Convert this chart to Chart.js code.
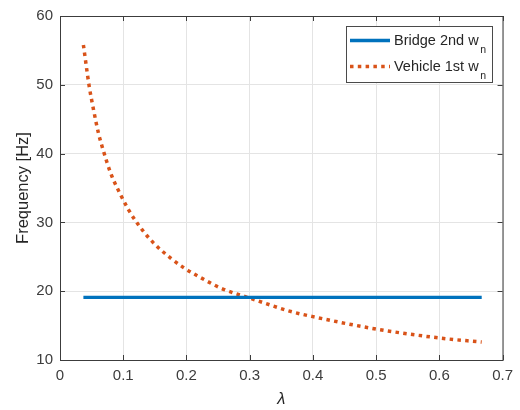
<!DOCTYPE html>
<html>
<head>
<meta charset="utf-8">
<script src="https://cdn.jsdelivr.net/npm/chart.js@4/dist/chart.umd.min.js"></script>
<style>
  html, body { margin: 0; padding: 0; background: #ffffff; }
  #wrap { width: 520px; height: 410px; position: relative; }
</style>
</head>
<body>
<div id="wrap"><canvas id="chart" width="520" height="410"></canvas></div>
<script>
// values
const lambdaVehicle = [0.037, 0.046, 0.053, 0.061, 0.068, 0.080, 0.097, 0.108, 0.122, 0.147,
  0.175, 0.196, 0.218, 0.253, 0.276, 0.300, 0.363, 0.400, 0.500, 0.600, 0.667];
const freqVehicle = [55.8, 49.9, 46.4, 42.9, 40.6, 37.2, 33.8, 31.9, 29.9, 27.1,
  24.8, 23.4, 22.2, 20.5, 19.7, 19.0, 17.1, 16.3, 14.5, 13.2, 12.6];
const lambdaBridge = [0.037, 0.667];
const freqBridge = [19.1, 19.1];
const xTicks = [0, 0.1, 0.2, 0.3, 0.4, 0.5, 0.6, 0.7];
const yTicks = [10, 20, 30, 40, 50, 60];
const legendLabels = ["Bridge 2nd w", "Vehicle 1st w"];
const legendSubs = ["n", "n"];
const yTitle = "Frequency [Hz]";
const xTitle = "\u03bb";

(function () {
  const FONT = "'Liberation Sans', Arial, sans-serif";
  const AXIS_COLOR = "#3c3c3c";
  const BLUE = "#0072BD";
  const ORANGE = "#D95319";

  function toPoints(xs, ys) {
    return xs.map(function (x, i) {
      return { x: x, y: ys[i] };
    });
  }

  const framePlugin = {
    id: "matlabFrame",
    afterDraw: function (chart) {
      const ctx = chart.ctx;
      const area = chart.chartArea;
      const xs = chart.scales.x;
      const ys = chart.scales.y;
      const tick = 5;

      ctx.save();
      ctx.strokeStyle = AXIS_COLOR;
      ctx.lineWidth = 1;
      ctx.strokeRect(area.left + 0.5, area.top + 0.5, area.right - area.left, area.bottom - area.top);

      ctx.beginPath();
      xTicks.forEach(function (v) {
        const px = Math.round(xs.getPixelForValue(v)) + 0.5;
        ctx.moveTo(px, area.bottom);
        ctx.lineTo(px, area.bottom - tick);
        ctx.moveTo(px, area.top);
        ctx.lineTo(px, area.top + tick);
      });
      yTicks.forEach(function (v) {
        const py = Math.round(ys.getPixelForValue(v)) + 0.5;
        ctx.moveTo(area.left, py);
        ctx.lineTo(area.left + tick, py);
        ctx.moveTo(area.right, py);
        ctx.lineTo(area.right - tick, py);
      });
      ctx.stroke();

      // axis titles
      ctx.fillStyle = "#262626";
      ctx.font = "16.5px " + FONT;
      ctx.textAlign = "center";
      ctx.textBaseline = "middle";
      ctx.save();
      ctx.translate(23, (area.top + area.bottom) / 2 + 0);
      ctx.rotate(-Math.PI / 2);
      ctx.fillText(yTitle, 0, 0);
      ctx.restore();
      ctx.font = "italic 16.5px " + FONT;
      ctx.fillText(xTitle, (area.left + area.right) / 2, 399);

      // legend
      const box = { x: 346, y: 26, w: 146, h: 56 };
      ctx.fillStyle = "#ffffff";
      ctx.fillRect(box.x, box.y, box.w, box.h);
      ctx.strokeStyle = "#4a4a4a";
      ctx.strokeRect(box.x + 0.5, box.y + 0.5, box.w, box.h);

      const rows = [
        { y: 40.5, color: BLUE, dash: [], width: 3.3 },
        { y: 66.5, color: ORANGE, dash: [3.5, 4.3], width: 3.5 },
      ];
      rows.forEach(function (row, i) {
        ctx.beginPath();
        ctx.setLineDash(row.dash);
        ctx.lineCap = "butt";
        ctx.strokeStyle = row.color;
        ctx.lineWidth = row.width;
        ctx.moveTo(350, row.y);
        ctx.lineTo(390, row.y);
        ctx.stroke();
        ctx.setLineDash([]);

        ctx.fillStyle = "#262626";
        ctx.textAlign = "left";
        ctx.textBaseline = "alphabetic";
        ctx.font = "14.5px " + FONT;
        ctx.fillText(legendLabels[i], 394, row.y + 4.5);
        const w = ctx.measureText(legendLabels[i]).width;
        ctx.font = "10.5px " + FONT;
        ctx.fillText(legendSubs[i], 394 + w + 1.5, row.y + 12);
      });
      ctx.restore();
    },
  };

  new Chart(document.getElementById("chart"), {
    type: "line",
    data: {
      datasets: [
        {
          label: legendLabels[0] + legendSubs[0],
          data: toPoints(lambdaBridge, freqBridge),
          borderColor: BLUE,
          borderWidth: 3.3,
          pointRadius: 0,
          fill: false,
        },
        {
          label: legendLabels[1] + legendSubs[1],
          data: toPoints(lambdaVehicle, freqVehicle),
          borderColor: ORANGE,
          borderWidth: 3.5,
          borderDash: [3.5, 4.3],
          borderCapStyle: "butt",
          cubicInterpolationMode: "monotone",
          pointRadius: 0,
          fill: false,
        },
      ],
    },
    options: {
      responsive: false,
      animation: false,
      layout: { padding: { left: 0, top: 15, right: 17, bottom: 0 } },
      plugins: {
        legend: { display: false },
        tooltip: { enabled: false },
      },
      scales: {
        x: {
          type: "linear",
          min: 0,
          max: 0.7,
          afterFit: function (scale) {
            scale.height = 50;
          },
          afterBuildTicks: function (scale) {
            scale.ticks = xTicks.map(function (v) {
              return { value: v };
            });
          },
          ticks: {
            color: AXIS_COLOR,
            font: { family: FONT, size: 15 },
            padding: 7,
            maxRotation: 0,
            callback: function (v) {
              return String(Math.round(v * 10) / 10);
            },
          },
          grid: { color: "#e4e4e4", drawTicks: false },
          border: { display: false },
        },
        y: {
          min: 10,
          max: 60,
          afterFit: function (scale) {
            scale.width = 60;
          },
          afterBuildTicks: function (scale) {
            scale.ticks = yTicks.map(function (v) {
              return { value: v };
            });
          },
          ticks: {
            color: AXIS_COLOR,
            font: { family: FONT, size: 15 },
            padding: 7,
          },
          grid: { color: "#e4e4e4", drawTicks: false },
          border: { display: false },
        },
      },
    },
    plugins: [framePlugin],
  });
})();
</script>
</body>
</html>
